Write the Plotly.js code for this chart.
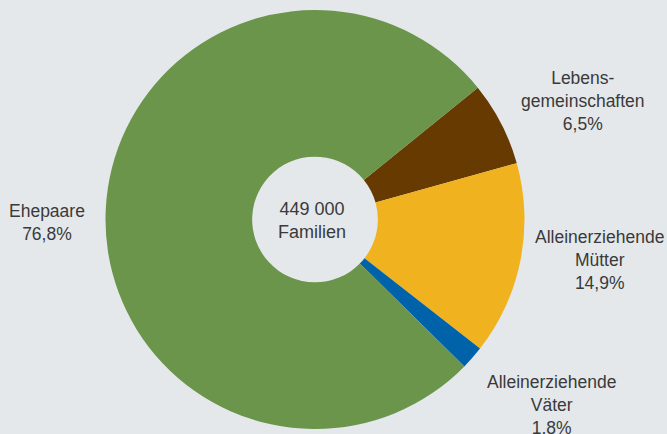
<!DOCTYPE html>
<html>
<head>
<meta charset="utf-8">
<script src="https://cdn.plot.ly/plotly-3.0.1.min.js"></script>
<style>
html,body{margin:0;padding:0;background:#e4e8eb;}
#chart{width:667px;height:434px;}
</style>
</head>
<body>
<div id="chart"></div>
<script>
var labels = ["Lebens-<br>gemeinschaften", "Alleinerziehende<br>Mütter", "Alleinerziehende<br>Väter", "Ehepaare"];
var values = [6.5, 14.9, 1.8, 76.8];
var colors = ["#663a00", "#f0b21f", "#0062a9", "#6a954a"];
var centerLines = ["449 000", "Familien"];

// label placements (paper coords)
var labelX = [583, 599, 551, 47];
var labelY = [101, 260, 405, 222];

var W = 667, H = 434;
var cx = 315, cy = 219.5, r = 209.5;

var fontFam = "Liberation Sans, Arial, sans-serif";
var txtColor = "#3a3a3a";

var annotations = labels.map(function(l, i){
  return {
    text: l + "<br>" + values[i].toFixed(1).replace('.', ',') + "%",
    x: labelX[i] / W, y: 1 - labelY[i] / H,
    xref: "paper", yref: "paper",
    xanchor: "center", yanchor: "middle",
    align: "center", showarrow: false,
    font: {family: fontFam, size: 17.5, color: txtColor}
  };
});
annotations.push({
  text: centerLines.join("<br>"),
  x: 312 / W, y: 1 - 221 / H,
  xref: "paper", yref: "paper",
  xanchor: "center", yanchor: "middle",
  align: "center", showarrow: false,
  font: {family: fontFam, size: 18, color: txtColor}
});

var trace = {
  type: "pie",
  labels: labels,
  values: values,
  marker: {colors: colors, line: {width: 0}},
  hole: 0.30,
  sort: false,
  direction: "clockwise",
  rotation: 51,
  textinfo: "none",
  hoverinfo: "none",
  showlegend: false,
  domain: {x: [(cx - r) / W, (cx + r) / W], y: [1 - (cy + r) / H, 1 - (cy - r) / H]}
};

var layout = {
  width: W, height: H,
  margin: {l: 0, r: 0, t: 0, b: 0},
  paper_bgcolor: "#e4e8eb",
  plot_bgcolor: "#e4e8eb",
  showlegend: false,
  annotations: annotations
};

Plotly.newPlot("chart", [trace], layout, {displayModeBar: false, staticPlot: true});
</script>
</body>
</html>
